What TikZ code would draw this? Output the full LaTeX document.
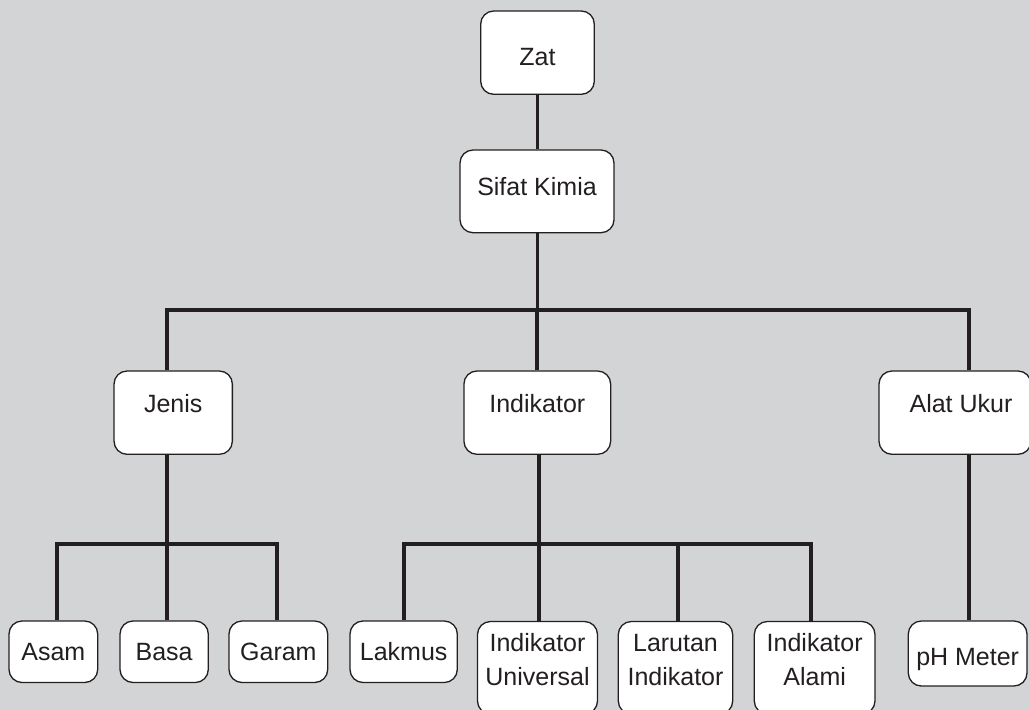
\documentclass[tikz,border=0pt]{standalone}
\usepackage{fontspec}
\setmainfont{Liberation Sans}
\definecolor{bg}{RGB}{211,212,214}
\definecolor{ink}{RGB}{35,31,32}
\newcommand{\twoline}[2]{\begin{tabular}[t]{@{}c@{}}#1\\#2\end{tabular}}
\begin{document}
\begin{tikzpicture}[x=1pt,y=-1pt,
  box/.style={draw=ink, fill=white, line width=1.3pt, rounded corners=13pt,
    inner sep=0pt, text=ink, font=\fontsize{25}{34.3}\selectfont},
  lvlb/.style={box, text height=41.5pt, text depth=41.8pt},
  lvlc/.style={box, text height=39.7pt, text depth=21.8pt},
  lvld/.style={box, text height=30pt, text depth=62.5pt},
  link/.style={draw=ink, line width=3.8pt, line join=miter}]
\useasboundingbox (0,0) rectangle (1029,710);
\fill[bg] (0,0) rectangle (1029,710);
\clip (0,0) rectangle (1029,710);

% top
\node[box, minimum width=113.6pt, text height=54.7pt, text depth=28.6pt] (zat) at (537.5,52.65) {Zat};
\node[box, minimum width=154pt, text height=45pt, text depth=37.7pt] (sifat) at (537,191.35) {Sifat Kimia};

% level 2
\node[lvlb, minimum width=118.3pt] (jenis) at (173.2,412.65) {Jenis};
\node[lvlb, minimum width=146.7pt] (ind) at (537.3,412.65) {Indikator};
\node[lvlb, minimum width=152pt] (alat) at (955,412.65) {\hspace*{12pt}Alat Ukur};

% level 3
\node[lvlc, minimum width=88.7pt] (asam) at (53.35,651.75) {Asam};
\node[lvlc, minimum width=88.3pt] (basa) at (164.15,651.75) {Basa};
\node[lvlc, minimum width=98.7pt] (garam) at (278.35,651.75) {Garam};
\node[lvlc, minimum width=107.3pt] (lakmus) at (403.65,651.75) {Lakmus};
\node[lvld, minimum width=120pt] (univ) at (537.5,667.75) {\twoline{Indikator}{Universal}};
\node[lvld, minimum width=114.4pt] (larutan) at (675.5,667.75) {\twoline{Larutan}{Indikator}};
\node[lvld, minimum width=120.7pt] (alami) at (814.65,667.75) {\twoline{Indikator}{Alami}};
\node[box, minimum width=118.7pt, text height=44.7pt, text depth=20.3pt] (ph) at (967.65,653.5) {pH Meter};

% junction coordinates
\coordinate (b1) at (167,310);
\coordinate (b2) at (969.3,310);
\coordinate (j1) at (56.7,544.3);
\coordinate (jc) at (166.7,544.3);
\coordinate (j3) at (276.7,544.3);
\coordinate (i1) at (404.3,544.3);
\coordinate (ic) at (538.7,544.3);
\coordinate (i3) at (678.3,544.3);
\coordinate (i4) at (811,544.3);

% connectors
\draw[link] (zat.south) -- (zat.south |- sifat.north);
\draw[link] (zat.south |- sifat.south) -- (zat.south |- b1);
\draw[link] (jenis.north -| b1) -- (b1) -- (b2) -- (alat.north -| b2);
\draw[link] (ind.north) -- (ind.north |- b1);

\draw[link] (asam.north -| j1) -- (j1) -- (j3) -- (garam.north -| j3);
\draw[link] (jc |- jenis.south) -- (jc |- basa.north);

\draw[link] (lakmus.north -| i1) -- (i1) -- (i4) -- (alami.north -| i4);
\draw[link] (ic |- ind.south) -- (ic |- univ.north);
\draw[link] (i3) -- (i3 |- larutan.north);

\draw[link] (alat.south -| b2) -- (b2 |- ph.north);
\end{tikzpicture}
\end{document}
